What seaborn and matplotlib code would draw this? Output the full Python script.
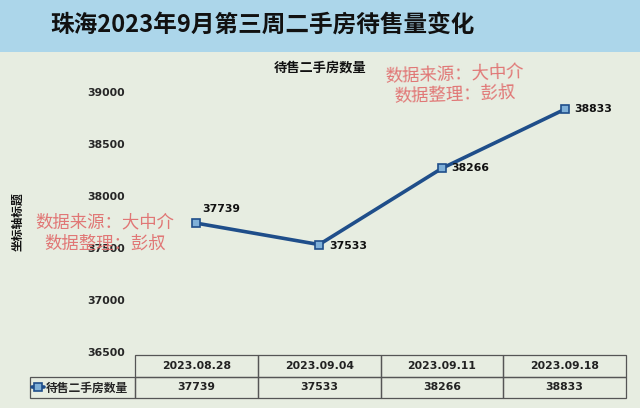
import pandas as pd
import seaborn as sns
import matplotlib.pyplot as plt
from matplotlib.patches import Rectangle

dates = ["2023.08.28", "2023.09.04", "2023.09.11", "2023.09.18"]
listings = [37739, 37533, 38266, 38833]
yticks = [36500, 37000, 37500, 38000, 38500, 39000]
series_name = "待售二手房数量"
title = "珠海2023年9月第三周二手房待售量变化"
watermark = "数据来源：大中介\n数据整理：彭叔"

df = pd.DataFrame({"date": dates, "value": listings})

sns.set_theme(style="white")
plt.rcParams["font.family"] = ["Noto Sans CJK SC", "DejaVu Sans"]

W, H = 640, 408
bg = "#e7ede1"
band = "#acd6ea"
line_c = "#1f4e8a"

fig = plt.figure(figsize=(W / 100, H / 100), dpi=100, facecolor=bg)

def fx(px):
    return px / W

def fy(py):
    return 1 - py / H

# title band
fig.patches.append(Rectangle((0, fy(52)), 1, 52 / H, transform=fig.transFigure,
                             facecolor=band, edgecolor="none", zorder=0))
fig.text(fx(262), fy(25), title, ha="center", va="center", fontsize=17,
         fontweight="bold", color="#111111")

ax = fig.add_axes([fx(135), fy(352), fx(626) - fx(135), (352 - 92) / H])
ax.set_facecolor("none")
sns.lineplot(data=df, x="date", y="value", ax=ax, color=line_c, lw=2.6,
             marker="s", markersize=6, markerfacecolor="#7fb0d8",
             markeredgecolor=line_c, markeredgewidth=1.2, label=series_name,
             legend=False, sort=False)
ax.set_xlim(-0.5, 3.5)
ax.set_ylim(36500, 39000)
ax.set_yticks(yticks)
ax.set_yticklabels([str(t) for t in yticks], fontsize=7.8, fontweight="bold",
                   family="DejaVu Sans")
ax.tick_params(axis="y", length=0, pad=7)
ax.set_xticks([])
ax.set_xlabel("")
ax.set_ylabel("")
for s in ax.spines.values():
    s.set_visible(False)

# data labels
offsets = [(4, 10), (7, -1), (7, 0), (7, 0)]
for i, (v, off) in enumerate(zip(listings, offsets)):
    ax.annotate(str(v), (i, v), xytext=off, textcoords="offset points",
                ha="left", va="center", fontsize=7.8, fontweight="bold",
                family="DejaVu Sans", color="#111111")

# data table under the plot (first column holds the legend entry)
col_w = [105 / 596] + [122.75 / 596] * 4
tbl = ax.table(cellText=[[""] + [str(v) for v in listings]],
               colLabels=[""] + dates, cellLoc="center", colWidths=col_w,
               bbox=[(30 - 135) / 491, (352 - 398) / 260, 596 / 491, 43 / 260])
tbl.auto_set_font_size(False)
for (r, c), cell in tbl.get_celld().items():
    cell.set_facecolor("none")
    cell.set_edgecolor("#555555")
    cell.set_linewidth(0.9)
    cell.get_text().set_fontsize(7.8)
    cell.get_text().set_fontweight("bold")
    cell.get_text().set_family("DejaVu Sans")
    cell.get_text().set_color("#222222")
tbl[0, 0].visible_edges = ""

handles, labels = ax.get_legend_handles_labels()
fig.legend(handles, labels, loc="center left", bbox_to_anchor=(fx(32), fy(388)),
           frameon=False, handlelength=1.0, handletextpad=0.2, borderpad=0,
           borderaxespad=0, prop={"size": 8.5, "weight": "bold"})

fig.text(fx(320), fy(68), series_name, ha="center", va="center", fontsize=9.5,
         fontweight="bold", color="#111111")
fig.text(fx(18), fy(222), "坐标轴标题", ha="center", va="center", rotation=90,
         fontsize=8.5, fontweight="bold", color="#111111")

# watermarks
fig.text(fx(455), fy(84), watermark, ha="center", va="center", fontsize=12.5,
         color="#e06a6a", alpha=0.9, rotation=2, linespacing=1.2)
fig.text(fx(105), fy(233), watermark, ha="center", va="center", fontsize=12.5,
         color="#e06a6a", alpha=0.9, linespacing=1.2)

fig.savefig("out.png", dpi=100, facecolor=bg)
